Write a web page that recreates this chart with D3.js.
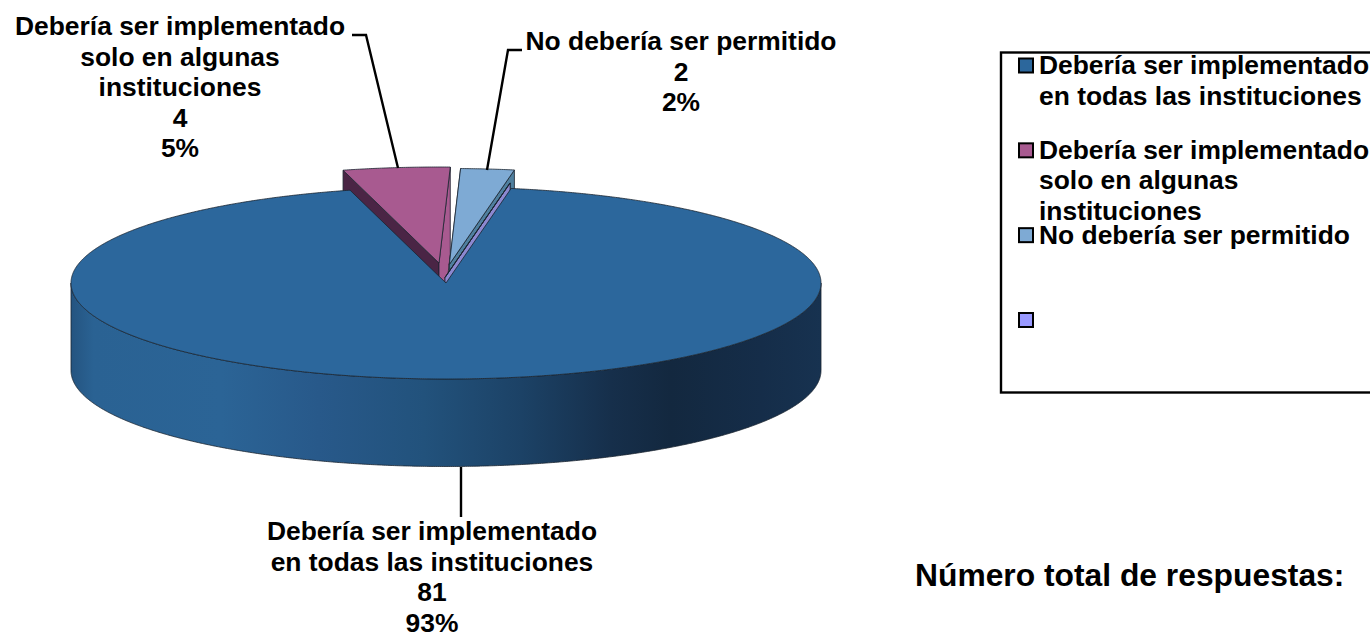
<!DOCTYPE html>
<html>
<head>
<meta charset="utf-8">
<script src="https://cdn.jsdelivr.net/npm/d3@7"></script>
<style>
  html, body { margin: 0; padding: 0; background: #fff; overflow: hidden; }
  text { font-family: "Liberation Sans", Arial, sans-serif; font-weight: bold; fill: #000; }
</style>
</head>
<body>
<div id="chart"></div>
<script>
// Values
const categoryLines = [
    ["Debería ser implementado", "en todas las instituciones"],
    ["Debería ser implementado", "solo en algunas", "instituciones"],
    ["No debería ser permitido"],
    []
];
const values = [81, 4, 2, 0];
const faceColors = ["#2c679c", "#a85a90", "#7eaad4", "#9999ff"];
const leftWallColors = ["#1b3d5e", "#4a2545", "#3f5f80", "#5a5aa0"];
const rightWallColors = ["#1b3d5e", "#a85a90", "#4f7f9e", "#8c88d0"];
const totalTitle = "Número total de respuestas:";

// Pie geometry
const cx = 446, cy = 283, rx = 375, ry = 96, depth = 87.5;
const startAngle = 10 * Math.PI / 180;
// explosion of each slice on the page
const offsets = [[0, 0], [-7, -20], [3.3, -18.5], [-1, -5.5]];

const svg = d3.select("#chart")
    .append("svg")
    .attr("width", 1370)
    .attr("height", 635)
    .style("display", "block");

const x = d3.scaleLinear().domain([-1, 1]).range([cx - rx, cx + rx]);
const y = d3.scaleLinear().domain([-1, 1]).range([cy + ry, cy - ry]);

const slices = d3.pie()
    .sort(null)
    .value(d => d)
    .startAngle(startAngle)
    .endAngle(startAngle + 2 * Math.PI)(values);

const line = d3.line();

// rim points of an angle range, clockwise from 12 o'clock
function rim(a0, a1, dx, dy) {
    const n = Math.max(1, Math.ceil(Math.abs(a1 - a0) / 0.005));
    return d3.range(n + 1).map(i => {
        const a = a0 + (a1 - a0) * i / n;
        return [x(Math.sin(a)) + dx, y(Math.cos(a)) + dy];
    });
}

// Gradient of the front wall
const defs = svg.append("defs");
const grad = defs.append("linearGradient")
    .attr("id", "wallGrad")
    .attr("gradientUnits", "userSpaceOnUse")
    .attr("x1", cx - rx).attr("x2", cx + rx)
    .attr("y1", 0).attr("y2", 0);
[[0, "#245480"], [0.03, "#2a6293"], [0.2, "#2b6496"], [0.33, "#28598a"], [0.47, "#22527c"],
 [0.6, "#1c4266"], [0.72, "#162f4b"], [0.8, "#13283f"], [0.92, "#152d49"], [1, "#173250"]]
    .forEach(s => grad.append("stop").attr("offset", s[0]).attr("stop-color", s[1]));

const edge = "#1a2430";

// Exploded slices sit behind the main top, so only the notch shows them
const drawOrder = [1, 2, 3];
drawOrder.forEach(i => {
    const s = slices[i];
    const [dx, dy] = offsets[i];
    const apex = [cx + dx, cy + dy];
    const a0 = s.startAngle, a1 = s.endAngle;
    const p0 = rim(a0, a0, dx, dy)[0];
    const p1 = rim(a1, a1, dx, dy)[0];

    // radial walls
    svg.append("path")
        .attr("d", line([apex, p0, [p0[0], p0[1] + depth], [apex[0], apex[1] + depth]]) + "Z")
        .attr("fill", leftWallColors[i])
        .attr("stroke", edge)
        .attr("stroke-width", 0.8);
    svg.append("path")
        .attr("d", line([apex, p1, [p1[0], p1[1] + depth], [apex[0], apex[1] + depth]]) + "Z")
        .attr("fill", rightWallColors[i])
        .attr("stroke", edge)
        .attr("stroke-width", 0.8);

    // top face
    svg.append("path")
        .attr("d", line([apex, ...rim(a0, a1, dx, dy)]) + "Z")
        .attr("fill", faceColors[i])
        .attr("stroke", edge)
        .attr("stroke-width", 0.8);
});

// Main slice: front wall then top
const wallTop = rim(Math.PI / 2, 3 * Math.PI / 2, 0, 0);
const wallBottom = wallTop.map(p => [p[0], p[1] + depth]).reverse();
svg.append("path")
    .attr("d", line([...wallTop, ...wallBottom]) + "Z")
    .attr("fill", "url(#wallGrad)")
    .attr("stroke", edge)
    .attr("stroke-width", 0.8);

svg.append("path")
    .attr("d", line([[cx, cy], ...rim(slices[0].startAngle, slices[0].endAngle, 0, 0)]) + "Z")
    .attr("fill", faceColors[0])
    .attr("stroke", edge)
    .attr("stroke-width", 0.8);

// Leader lines
const leaders = [
    [[461, 467], [461, 517]],
    [[352, 35], [366, 35], [398, 168]],
    [[522, 50], [508, 50], [487, 170]]
];
leaders.forEach(l => {
    svg.append("path")
        .attr("d", line(l))
        .attr("fill", "none")
        .attr("stroke", "#000")
        .attr("stroke-width", 2.4);
});

// Data labels: name lines, value, percent
const total = d3.sum(values);
const labelPos = [[432, 540], [180, 35], [681, 50]];
labelPos.forEach((pos, i) => {
    const rows = [...categoryLines[i], values[i], Math.round(values[i] / total * 100) + "%"];
    svg.append("text")
        .attr("text-anchor", "middle")
        .attr("font-size", 26.4)
        .selectAll("tspan")
        .data(rows)
        .enter()
        .append("tspan")
        .attr("x", pos[0])
        .attr("y", (d, j) => pos[1] + j * 30.6)
        .text(d => d);
});

// Legend
svg.append("rect")
    .attr("x", 1001)
    .attr("y", 52.5)
    .attr("width", 420)
    .attr("height", 340)
    .attr("fill", "none")
    .attr("stroke", "#000")
    .attr("stroke-width", 2.4);

const legendRow = d3.scalePoint().domain(d3.range(4)).range([65.5, 320]);
categoryLines.forEach((rows, i) => {
    const yc = legendRow(i);
    svg.append("rect")
        .attr("x", 1019)
        .attr("y", yc - 7)
        .attr("width", 14)
        .attr("height", 14)
        .attr("fill", faceColors[i])
        .attr("stroke", "#000")
        .attr("stroke-width", 2);
    svg.append("text")
        .attr("font-size", 26.4)
        .selectAll("tspan")
        .data(rows)
        .enter()
        .append("tspan")
        .attr("x", 1039)
        .attr("y", (d, j) => yc + 8.5 + j * 30.6)
        .text(d => d);
});

svg.append("text")
    .attr("x", 915)
    .attr("y", 586)
    .attr("font-size", 31.8)
    .text(totalTitle);
</script>
</body>
</html>
